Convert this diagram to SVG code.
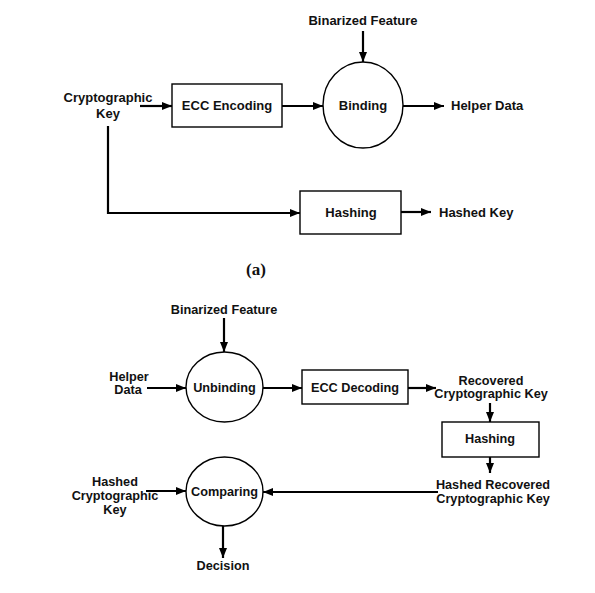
<svg xmlns="http://www.w3.org/2000/svg" width="595" height="593" viewBox="0 0 595 593">
<defs>
<marker id="ah" markerWidth="10" markerHeight="8" refX="10" refY="4" orient="auto" markerUnits="userSpaceOnUse">
<path d="M0,0 L10,4 L0,8 Z" fill="#000"/>
</marker>
<style>
.t{font-family:"Liberation Sans",Arial,sans-serif;font-weight:bold;font-size:13px;fill:#111;text-anchor:middle}
.s{font-size:12.7px}
.l{text-anchor:start}
.sh{fill:#fff;stroke:#000;stroke-width:1.4}
.c{fill:none;stroke:#000;stroke-width:2.2}
.cap{font-family:"Liberation Serif","Times New Roman",serif;font-weight:bold;font-size:17px;fill:#111;text-anchor:middle}
</style>
</defs>
<rect width="595" height="593" fill="#fff"/>
<g id="connectors">
<line class="c" x1="363" y1="31" x2="363" y2="62" marker-end="url(#ah)"/>
<line class="c" x1="140" y1="106" x2="172" y2="106" marker-end="url(#ah)"/>
<line class="c" x1="282" y1="106" x2="323" y2="106" marker-end="url(#ah)"/>
<line class="c" x1="403" y1="106" x2="444" y2="106" marker-end="url(#ah)"/>
<polyline class="c" points="108,126 108,213 300,213" marker-end="url(#ah)"/>
<line class="c" x1="401" y1="212" x2="431" y2="212" marker-end="url(#ah)"/>
<line class="c" x1="224" y1="318" x2="224" y2="352" marker-end="url(#ah)"/>
<line class="c" x1="147" y1="388" x2="186" y2="388" marker-end="url(#ah)"/>
<line class="c" x1="263" y1="388" x2="302" y2="388" marker-end="url(#ah)"/>
<line class="c" x1="408" y1="388" x2="436" y2="388" marker-end="url(#ah)"/>
<line class="c" x1="490" y1="403" x2="490" y2="422" marker-end="url(#ah)"/>
<line class="c" x1="490" y1="457" x2="490" y2="473" marker-end="url(#ah)"/>
<line class="c" x1="438" y1="492" x2="263" y2="492" marker-end="url(#ah)"/>
<line class="c" x1="146" y1="491" x2="186" y2="491" marker-end="url(#ah)"/>
<line class="c" x1="223" y1="526" x2="223" y2="558" marker-end="url(#ah)"/>
</g>
<g id="ecc-encoding">
<rect class="sh" x="172" y="84" width="110" height="43"/>
<text class="t" x="227" y="110">ECC Encoding</text>
</g>
<g id="binding">
<ellipse class="sh" cx="363" cy="105" rx="40" ry="43"/>
<text class="t" x="363" y="110">Binding</text>
</g>
<g id="hashing-a">
<rect class="sh" x="300" y="191" width="101" height="43"/>
<text class="t" x="351" y="217">Hashing</text>
</g>
<g id="labels-a">
<text class="t" x="363" y="25">Binarized Feature</text>
<text class="t" x="108" y="102">Cryptographic</text>
<text class="t" x="108" y="118">Key</text>
<text class="t l" x="451" y="110">Helper Data</text>
<text class="t l" x="439" y="217">Hashed Key</text>
<text class="cap" x="256" y="275">(a)</text>
</g>
<g id="unbinding">
<ellipse class="sh" cx="224.5" cy="387" rx="38.5" ry="35"/>
<text class="t s" x="224.5" y="392">Unbinding</text>
</g>
<g id="ecc-decoding">
<rect class="sh" x="302" y="370" width="106" height="34"/>
<text class="t s" x="355" y="392">ECC Decoding</text>
</g>
<g id="hashing-b">
<rect class="sh" x="442" y="422" width="97" height="35"/>
<text class="t s" x="490" y="443">Hashing</text>
</g>
<g id="comparing">
<ellipse class="sh" cx="224.5" cy="491.5" rx="38.5" ry="34.5"/>
<text class="t s" x="224.5" y="496">Comparing</text>
</g>
<g id="labels-b">
<text class="t s" x="224" y="314">Binarized Feature</text>
<text class="t s" x="129" y="381">Helper</text>
<text class="t s" x="128" y="394">Data</text>
<text class="t s" x="491" y="385">Recovered</text>
<text class="t s" x="491" y="398">Cryptographic Key</text>
<text class="t s" x="493" y="489">Hashed Recovered</text>
<text class="t s" x="493" y="503">Cryptographic Key</text>
<text class="t s" x="115" y="486">Hashed</text>
<text class="t s" x="115" y="500">Cryptographic</text>
<text class="t s" x="115" y="514">Key</text>
<text class="t s" x="223" y="570">Decision</text>
</g>
</svg>
